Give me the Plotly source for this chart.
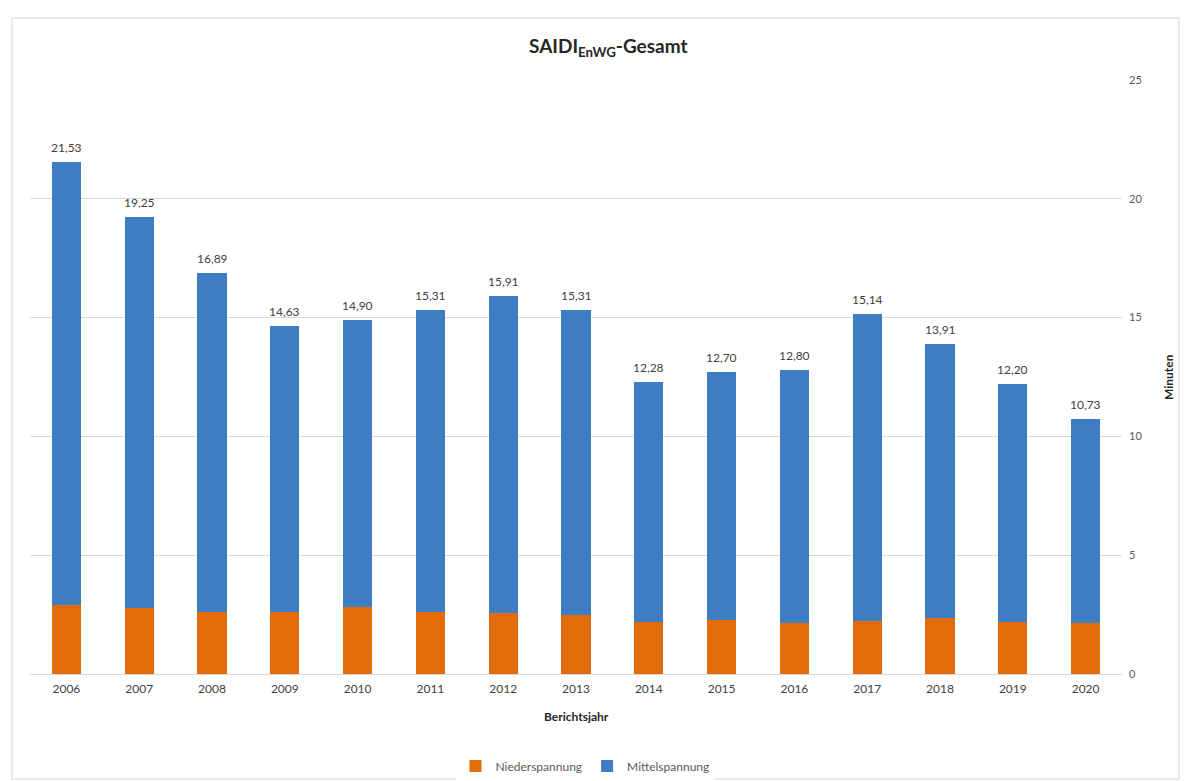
import plotly.graph_objects as go

years = ["2006", "2007", "2008", "2009", "2010", "2011", "2012", "2013",
         "2014", "2015", "2016", "2017", "2018", "2019", "2020"]
niederspannung = [2.90, 2.79, 2.60, 2.62, 2.83, 2.62, 2.58, 2.48,
                  2.20, 2.27, 2.13, 2.24, 2.37, 2.20, 2.13]
mittelspannung = [18.63, 16.46, 14.29, 12.01, 12.07, 12.69, 13.33, 12.83,
                  10.08, 10.43, 10.67, 12.90, 11.54, 10.00, 8.60]
gesamt = [21.53, 19.25, 16.89, 14.63, 14.90, 15.31, 15.91, 15.31,
          12.28, 12.70, 12.80, 15.14, 13.91, 12.20, 10.73]
y_ticks = [0, 5, 10, 15, 20, 25]

FONT = "Lato, 'Open Sans', sans-serif"
ORANGE = "#E36C0A"
BLUE = "#3E7CC4"

fig = go.Figure()
fig.add_trace(go.Bar(x=years, y=niederspannung, name="Niederspannung",
                     marker=dict(color=ORANGE, line=dict(width=0))))
fig.add_trace(go.Bar(x=years, y=mittelspannung, name="Mittelspannung",
                     marker=dict(color=BLUE, line=dict(width=0))))

# paper coordinate helpers (plot area: x 30..1122 px, y 80..674 px)
def px_x(p):
    return (p - 30) / 1092.0

def px_y(p):
    return (674 - p) / 594.0

# total labels above the bars (x given as category index)
label_annotations = [
    dict(x=i, y=tot, xref="x", yref="y", text=f"{tot:.2f}".replace(".", ","),
         showarrow=False, xanchor="center", yanchor="bottom", yshift=5,
         font=dict(family=FONT, size=12, color="#404040"))
    for i, tot in enumerate(gesamt)
]

fig.update_layout(
    width=1184, height=781,
    margin=dict(l=30, r=62, t=80, b=107, autoexpand=False),
    paper_bgcolor="white", plot_bgcolor="white",
    barmode="stack", bargap=0.6,
    font=dict(family=FONT, size=11, color="#595959"),
    showlegend=True,
    legend=dict(orientation="h", x=px_x(585), xanchor="center",
                y=px_y(766), yanchor="middle",
                font=dict(family=FONT, size=12, color="#595959"),
                traceorder="normal"),
    xaxis=dict(type="category", range=[-0.5, 14.5], showgrid=False,
               showline=True, linecolor="#D9D9D9", linewidth=1, ticks="",
               tickfont=dict(family=FONT, size=12, color="#404040"),
               ticklabelstandoff=4),
    yaxis=dict(side="right", range=[0, 25], tickvals=y_ticks,
               showgrid=True, gridcolor="#D9D9D9", gridwidth=1,
               zeroline=False, ticks="", showline=False,
               tickfont=dict(family=FONT, size=11, color="#595959"),
               ticklabelstandoff=6),
    annotations=label_annotations + [
        dict(text="<b>SAIDI<sub>EnWG</sub>-Gesamt</b>", xref="paper", yref="paper",
             x=px_x(608), y=px_y(47), xanchor="center", yanchor="middle",
             showarrow=False, font=dict(family=FONT, size=19, color="#262626")),
        dict(text="<b>Berichtsjahr</b>", xref="paper", yref="paper",
             x=px_x(576), y=px_y(716), xanchor="center", yanchor="middle",
             showarrow=False, font=dict(family=FONT, size=12, color="#262626")),
        dict(text="<b>Minuten</b>", xref="paper", yref="paper",
             x=px_x(1168), y=px_y(377), xanchor="center", yanchor="middle",
             textangle=-90,
             showarrow=False, font=dict(family=FONT, size=12, color="#262626")),
    ],
    shapes=[
        dict(type="rect", xref="paper", yref="paper",
             x0=px_x(12), x1=px_x(1179), y0=px_y(779), y1=px_y(18),
             line=dict(color="#E3E3E3", width=1.5), fillcolor="rgba(0,0,0,0)",
             layer="below"),
    ],
)

fig.write_html("out.html")
